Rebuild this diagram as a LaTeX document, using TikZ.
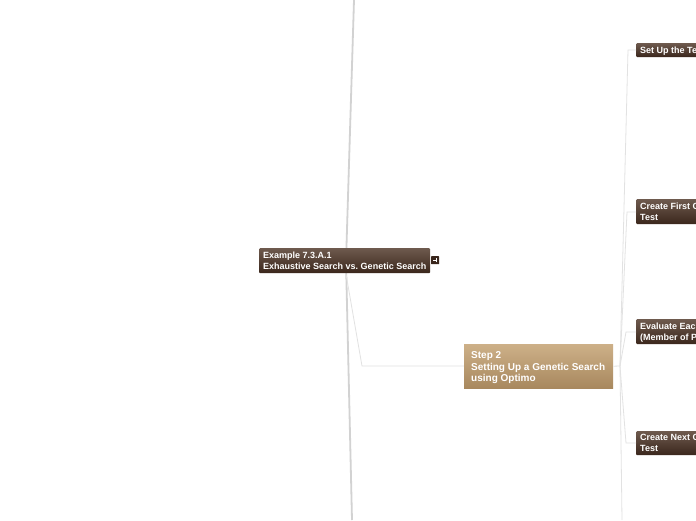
\documentclass[tikz,border=0pt]{standalone}
\usepackage{fontspec}
\setmainfont{Liberation Sans}
\frenchspacing
\definecolor{brtop}{HTML}{6E5A4E}
\definecolor{brbot}{HTML}{3A261C}
\definecolor{tantop}{HTML}{CDB088}
\definecolor{tanbot}{HTML}{A8885E}
\definecolor{mainline}{HTML}{D2D2D2}
\definecolor{subline}{HTML}{E2E2E2}
\newcommand\leftlines[3][1pt]{\raisebox{-#1}[\height][\depth]{\makebox[#2][l]{\begin{tabular}{@{}l@{}}#3\end{tabular}}}}
\begin{document}
\begin{tikzpicture}[x=1pt,y=-1pt,
  darkbox/.style={anchor=north west, top color=brtop, bottom color=brbot,
    rounded corners=1pt, text=white, font=\bfseries\fontsize{9}{11}\selectfont,
    inner xsep=4pt, inner ysep=0pt},
  tanbox/.style={anchor=north west, top color=tantop, bottom color=tanbot,
    text=white, font=\bfseries\fontsize{10}{11.5}\selectfont,
    inner xsep=7pt, inner ysep=0pt},
  mainconn/.style={draw=mainline, line width=1.8pt},
  subconn/.style={draw=subline, line width=0.8pt}]
\clip (0,0) rectangle (696,520);
\fill[white] (0,0) rectangle (696,520);
% coordinates for trunk ends
\coordinate (topend) at (354,0);
\coordinate (botend) at (352,520);
\coordinate (fifth) at (622,520);
\coordinate (hub) at (620,366);
% main trunk
\draw[mainconn] (346,262) -- (topend);
\draw[mainconn] (346,262) -- (botend);
\draw[subconn] (346,274) -- (362,366) -- (464,366);
% nodes
\node[darkbox, minimum width=171pt, minimum height=25pt] (root) at (259,248)
  {\leftlines{163pt}{Example 7.3.A.1\\Exhaustive Search vs. Genetic Search}};
\node[fill=brbot, rounded corners=0.5pt, minimum size=8pt, inner sep=0pt, anchor=north west] (icon) at (431,256) {};
\draw[white, line width=0.7pt] ([xshift=-2pt]icon.center) -- ([xshift=1.5pt]icon.center);
\draw[white, line width=0.7pt] ([xshift=1.5pt,yshift=-2pt]icon.center) -- ([xshift=1.5pt,yshift=2pt]icon.center);
\node[tanbox, minimum width=149pt, minimum height=44pt] (step2) at (464,344)
  {\leftlines[1.5pt]{135pt}{Step 2\\Setting Up a Genetic Search\\using Optimo}};
\node[darkbox, minimum width=200pt, minimum height=14pt] (c1) at (636,43)
  {\leftlines{192pt}{Set Up the Test}};
\node[darkbox, minimum width=200pt, minimum height=25pt] (c2) at (636,199)
  {\leftlines{192pt}{Create First Generation to\\Test}};
\node[darkbox, minimum width=200pt, minimum height=25pt] (c3) at (636,319)
  {\leftlines{192pt}{Evaluate Each Individual\\(Member of Population)}};
\node[darkbox, minimum width=200pt, minimum height=24pt] (c4) at (636,431)
  {\leftlines{192pt}{Create Next Generation to\\Test}};
% sub connectors
\draw[subconn] (step2.east) -- (hub);
\draw[subconn] (hub) -- (628,50) -- (c1.west |- 628,50);
\draw[subconn] (hub) -- (627,212) -- (c2.west |- 627,212);
\draw[subconn] (hub) -- (626,332) -- (c3.west |- 626,332);
\draw[subconn] (hub) -- (626,443) -- (c4.west |- 626,443);
\draw[subconn] (hub) -- (fifth);
\end{tikzpicture}
\end{document}
